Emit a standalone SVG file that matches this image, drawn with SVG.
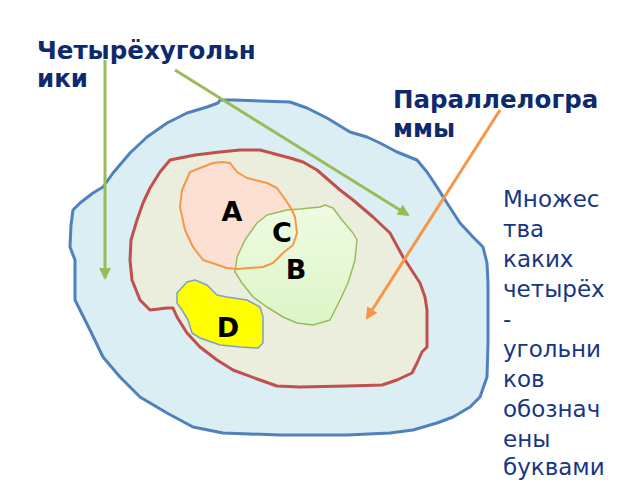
<svg xmlns="http://www.w3.org/2000/svg" width="640" height="480" viewBox="0 0 640 480">
<defs>
<style>
.title{font-family:"DejaVu Sans","Liberation Sans",sans-serif;font-weight:bold;font-size:24.5px;fill:#0e2a6e}
.note{font-family:"DejaVu Sans","Liberation Sans",sans-serif;font-size:23px;fill:#173684}
.lbl{font-family:"DejaVu Sans","Liberation Sans",sans-serif;font-weight:bold;font-size:27px;fill:#000;text-anchor:middle}
.green{stroke:#9bbb59;stroke-width:3;fill:none}
.orange{stroke:#f79646;stroke-width:3;fill:none}
</style>
<linearGradient id="gB" x1="0" y1="0" x2="0" y2="1">
<stop offset="0" stop-color="#eefbe3"/>
<stop offset="1" stop-color="#dcf5c6"/>
</linearGradient>
<marker id="mG" markerUnits="userSpaceOnUse" markerWidth="14" markerHeight="14" refX="10" refY="6" orient="auto">
<path d="M0,0 L12,6 L0,12 z" fill="#9bbb59"/>
</marker>
<marker id="mO" markerUnits="userSpaceOnUse" markerWidth="14" markerHeight="14" refX="10" refY="6" orient="auto">
<path d="M0,0 L12,6 L0,12 z" fill="#f79646"/>
</marker>
</defs>
<rect width="640" height="480" fill="#fff"/>

<g id="quadrilaterals">
<path d="M220,100 L233,100 L260,101 L290,102 L307,108 L327,118 L350,132 L367,137 L380,143 L397,152 L417,160 L427,172 L437,187 L447,203 L460,223 L473,237 L483,247 L487,263 L488,283 L488,343 L487,377 L480,397 L470,407 L453,417 L437,423 L413,430 L390,433 L347,435 L280,435 L223,433 L193,427 L167,413 L140,397 L120,377 L103,357 L90,330 L80,310 L75,300 L75,260 L70,247 L71,225 L73,210 L80,203 L93,193 L103,187 L113,173 L130,153 L147,137 L167,123 L187,113 L207,107 L218,103 Z" fill="#dbeef4" stroke="#4f81bd" stroke-width="3" stroke-linejoin="round"/>
</g>

<g id="parallelograms">
<path d="M170,160 L195,155 L220,152 L240,150 L260,150 L290,158 L303,162 L317,170 L340,190 L353,200 L373,217 L390,233 L403,257 L407,263 L420,283 L425,297 L427,310 L427,347 L422,352 L417,363 L412,373 L397,380 L382,385 L347,386 L300,387 L277,386 L260,380 L233,370 L217,360 L200,347 L187,333 L177,317 L173,308 L167,308 L150,310 L140,300 L132,280 L130,260 L131,240 L137,220 L143,203 L150,188 L160,172 Z" fill="#ebeedd" stroke="#c0504d" stroke-width="3" stroke-linejoin="round"/>
</g>

<g id="setA">
<path d="M213,163 L222,162 L230,163 L237,172 L247,178 L267,183 L277,188 L287,202 L292,210 L295,217 L297,233 L293,245 L283,253 L273,263 L263,267 L237,269 L227,268 L203,260 L193,247 L185,230 L180,207 L182,190 L190,172 L200,168 Z" fill="#fde0d4"/>
</g>

<g id="setB">
<path d="M267,215 L287,210 L300,209 L320,207 L325,205 L333,208 L342,220 L353,233 L357,240 L355,260 L348,283 L340,300 L330,320 L313,325 L297,323 L283,317 L267,307 L253,297 L242,283 L235,272 L237,257 L245,240 L257,223 Z" fill="url(#gB)" stroke="#9bbb59" stroke-width="1.5" stroke-linejoin="round"/>
</g>

<g id="setA-outline">
<path d="M213,163 L222,162 L230,163 L237,172 L247,178 L267,183 L277,188 L287,202 L292,210 L295,217 L297,233 L293,245 L283,253 L273,263 L263,267 L237,269 L227,268 L203,260 L193,247 L185,230 L180,207 L182,190 L190,172 L200,168 Z" fill="none" stroke="#f79646" stroke-width="2" stroke-linejoin="round"/>
</g>

<g id="setD">
<path d="M177,293 L187,282 L195,280 L207,285 L217,295 L227,297 L247,300 L260,307 L263,317 L263,343 L258,348 L240,347 L220,345 L200,338 L192,333 L188,320 L182,310 L177,303 Z" fill="#ffff00" stroke="#7f9fc8" stroke-width="1.5" stroke-linejoin="round"/>
</g>

<g id="connectors">
<line class="green" x1="105" y1="60" x2="105" y2="278" marker-end="url(#mG)"/>
<line class="green" x1="175" y1="70" x2="408" y2="215" marker-end="url(#mG)"/>
<line class="orange" x1="500" y1="110" x2="367" y2="318" marker-end="url(#mO)"/>
</g>

<g id="labels">
<text class="lbl" x="232" y="221">A</text>
<text class="lbl" x="282" y="242">C</text>
<text class="lbl" x="296" y="279">B</text>
<text class="lbl" x="228" y="337">D</text>
</g>

<g id="titles">
<text class="title" x="37" y="59">Четырёхугольн</text>
<text class="title" x="37" y="87">ики</text>
<text class="title" x="393" y="108">Параллелогра</text>
<text class="title" x="393" y="137">ммы</text>
</g>

<g id="note">
<text class="note" x="503" y="207">Множес</text>
<text class="note" x="503" y="237">тва</text>
<text class="note" x="503" y="267">каких</text>
<text class="note" x="503" y="297">четырёх</text>
<text class="note" x="503" y="327">-</text>
<text class="note" x="503" y="357">угольни</text>
<text class="note" x="503" y="387">ков</text>
<text class="note" x="503" y="417">обознач</text>
<text class="note" x="503" y="447">ены</text>
<text class="note" x="503" y="475">буквами</text>
</g>
</svg>
